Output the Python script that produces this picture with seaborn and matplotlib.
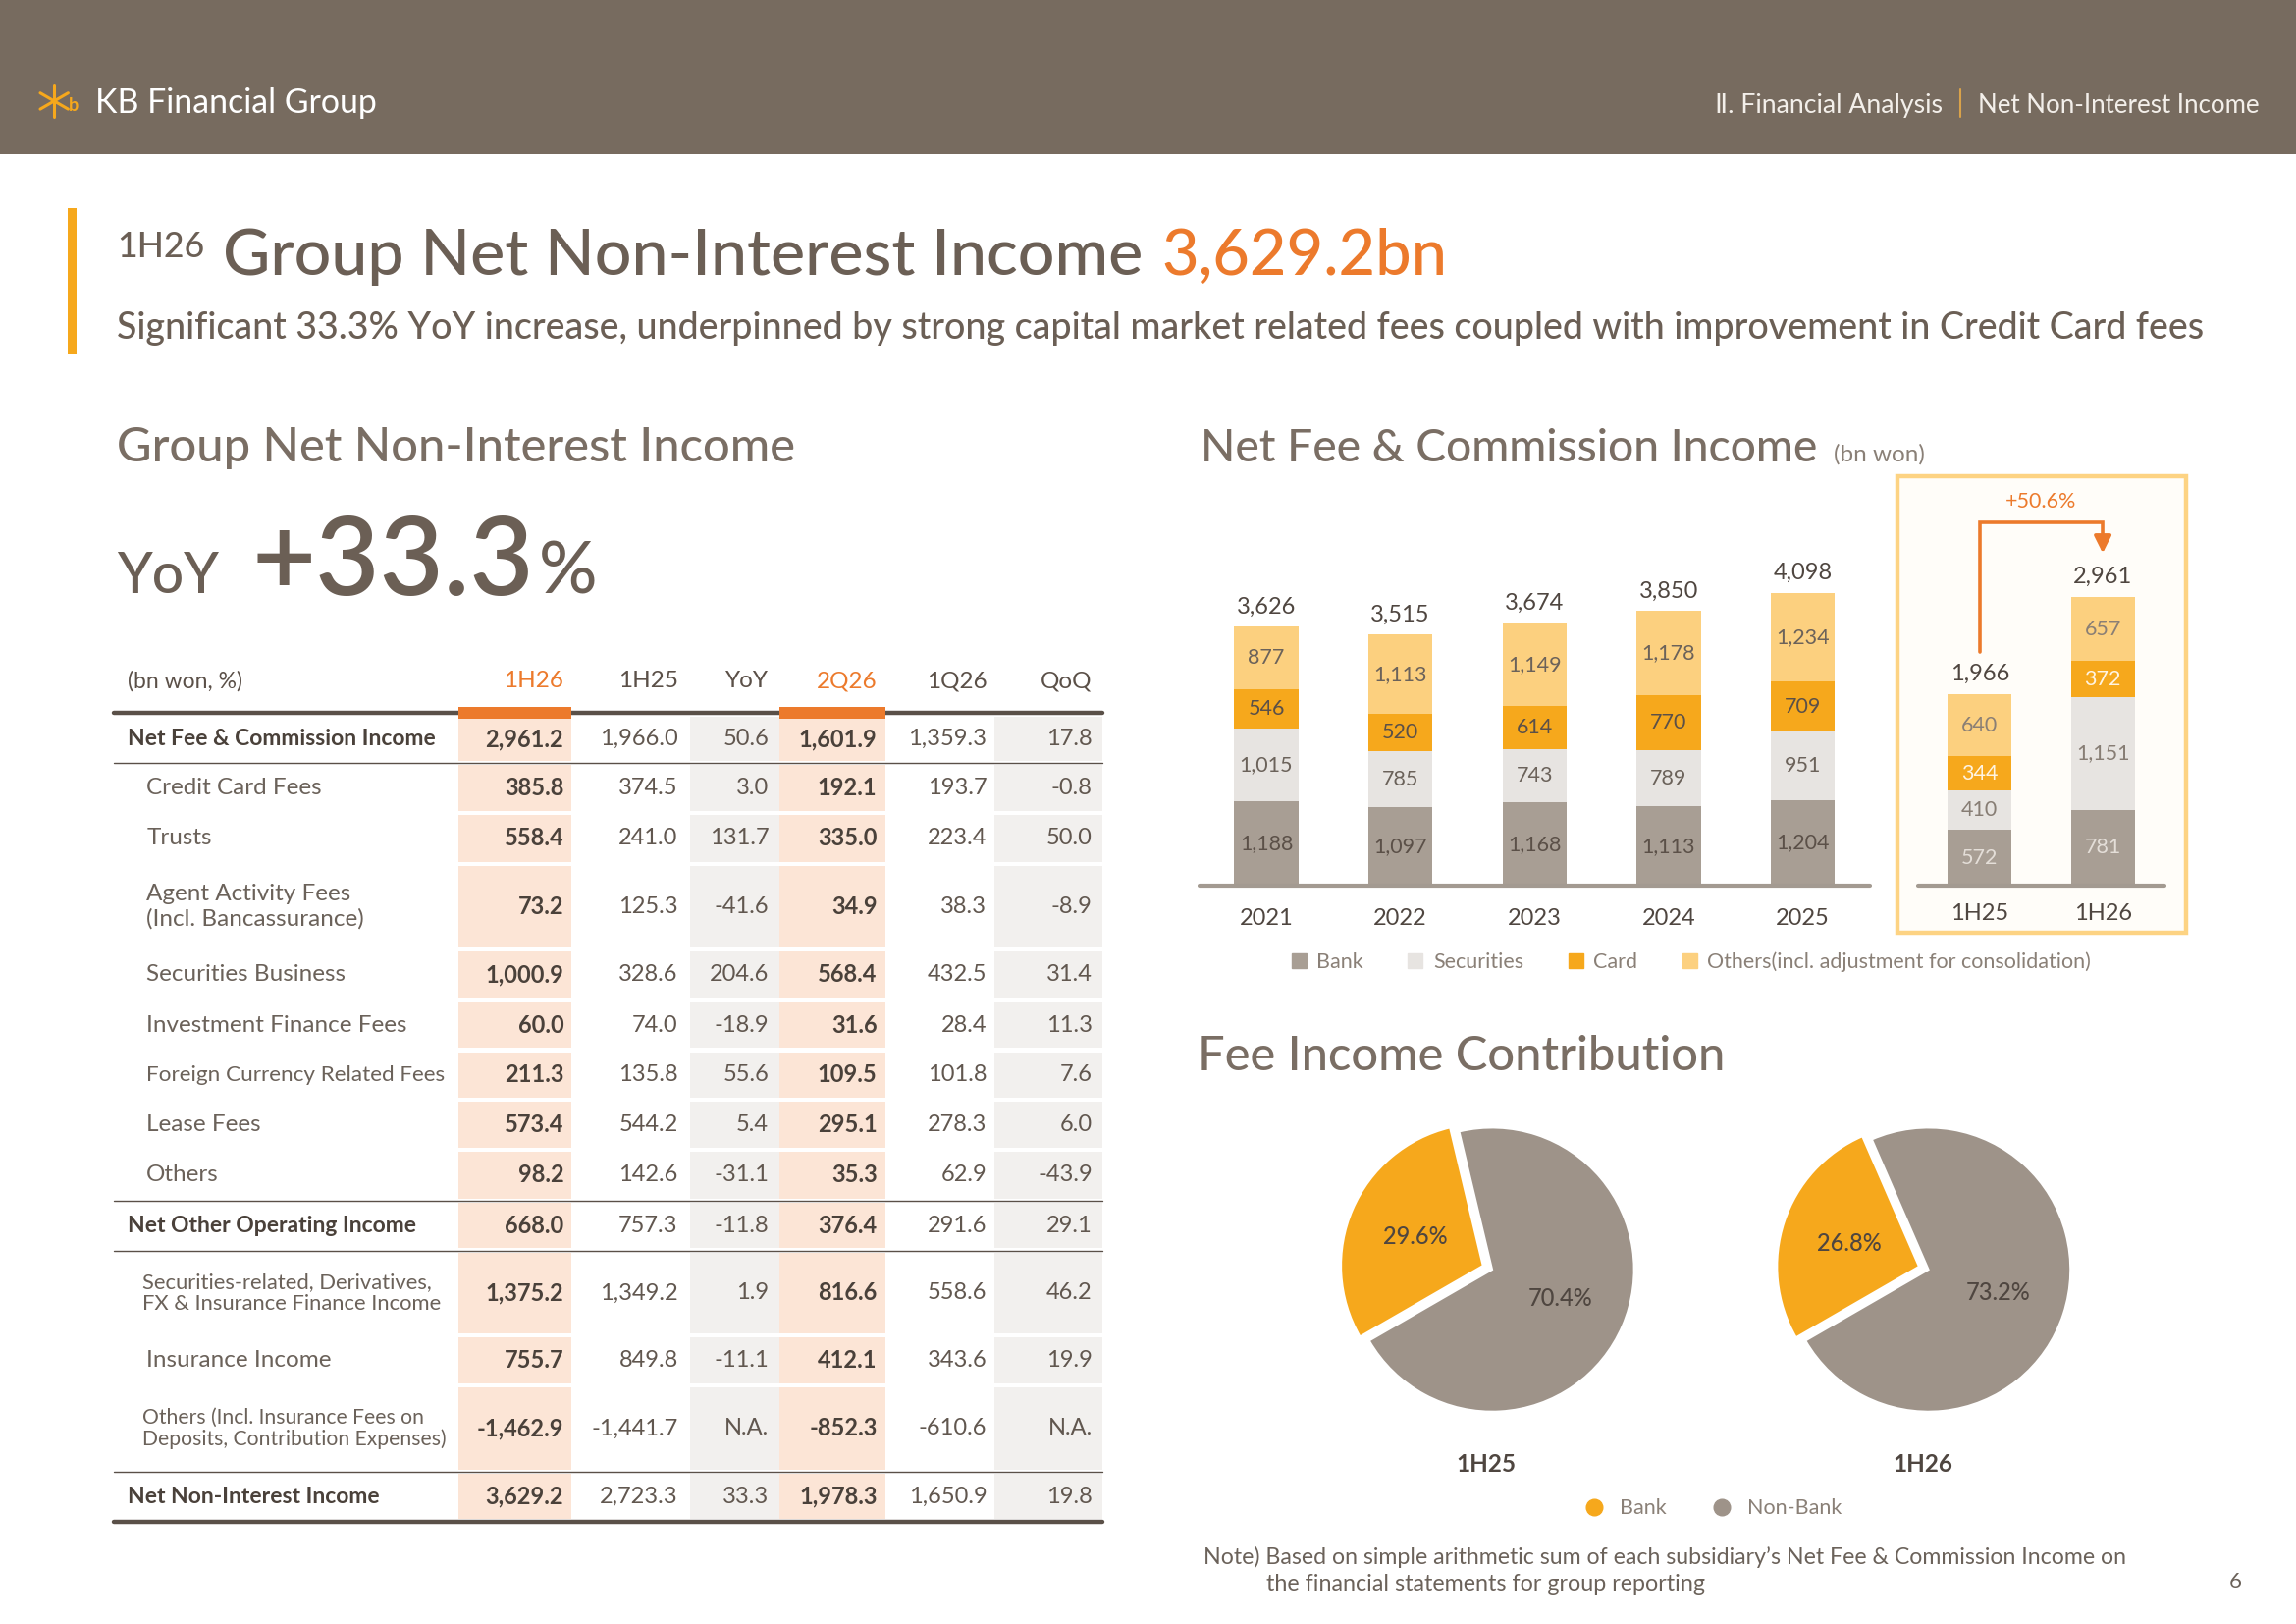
import numpy as np
import seaborn as sns
import matplotlib.pyplot as plt
from matplotlib.patches import Rectangle, Patch
from matplotlib.lines import Line2D

# ---- chart data ----
years = ['2021', '2022', '2023', '2024', '2025']
bank = [1188, 1097, 1168, 1113, 1204]
securities = [1015, 785, 743, 789, 951]
card = [546, 520, 614, 770, 709]
others = [877, 1113, 1149, 1178, 1234]

halves = ['1H25', '1H26']
bank_h = [572, 781]
securities_h = [410, 1151]
card_h = [344, 372]
others_h = [640, 657]
growth_label = '+50.6%'

pie_periods = ['1H25', '1H26']
bank_share = [29.6, 26.8]
nonbank_share = [70.4, 73.2]

# ---- table data ----
col_labels = ['1H26', '1H25', 'YoY', '2Q26', '1Q26', 'QoQ']
row_labels = ['Net Fee & Commission Income', 'Credit Card Fees', 'Trusts',
              'Agent Activity Fees\n(Incl. Bancassurance)', 'Securities Business',
              'Investment Finance Fees', 'Foreign Currency Related Fees', 'Lease Fees',
              'Others', 'Net Other Operating Income',
              'Securities-related, Derivatives,\nFX & Insurance Finance Income',
              'Insurance Income',
              'Others (Incl. Insurance Fees on\nDeposits, Contribution Expenses)',
              'Net Non-Interest Income']
h126 = [2961.2, 385.8, 558.4, 73.2, 1000.9, 60.0, 211.3, 573.4, 98.2, 668.0, 1375.2, 755.7, -1462.9, 3629.2]
h125 = [1966.0, 374.5, 241.0, 125.3, 328.6, 74.0, 135.8, 544.2, 142.6, 757.3, 1349.2, 849.8, -1441.7, 2723.3]
yoy = [50.6, 3.0, 131.7, -41.6, 204.6, -18.9, 55.6, 5.4, -31.1, -11.8, 1.9, -11.1, None, 33.3]
q226 = [1601.9, 192.1, 335.0, 34.9, 568.4, 31.6, 109.5, 295.1, 35.3, 376.4, 816.6, 412.1, -852.3, 1978.3]
q126 = [1359.3, 193.7, 223.4, 38.3, 432.5, 28.4, 101.8, 278.3, 62.9, 291.6, 558.6, 343.6, -610.6, 1650.9]
qoq = [17.8, -0.8, 50.0, -8.9, 31.4, 11.3, 7.6, 6.0, -43.9, 29.1, 46.2, 19.9, None, 19.8]
bold_rows = [0, 9, 13]

# ---- colours ----
BAND = '#776B5F'
TITLE = '#6B5F55'
DARK = '#4F4640'
MID = '#6B625A'
ORANGE = '#EC7A2C'
YELLOW = '#F6A81C'
C_BANK = '#A89E94'
C_SEC = '#E7E4E1'
C_CARD = '#F6A81C'
C_OTH = '#FCD07F'
C_NONBANK = '#9E9389'

sns.set_style('white')
plt.rcParams['font.family'] = ['Lato', 'DejaVu Sans']

W, H = 1568, 1109  # page units


def frac(x0, y0, x1, y1):
    return [x0 / W, 1 - y1 / H, (x1 - x0) / W, (y1 - y0) / H]


fig = plt.figure(figsize=(23.39, 16.54), dpi=100)
page = fig.add_axes([0, 0, 1, 1], zorder=0)
page.set_xlim(0, W)
page.set_ylim(H, 0)
page.axis('off')
renderer = fig.canvas.get_renderer()


def put(x, y, s, size, color, weight='normal', ha='left', va='baseline', width=None, **kw):
    t = page.text(x, y, s, fontsize=size, color=color, fontweight=weight, ha=ha, va=va, **kw)
    if width is not None:
        w = t.get_window_extent(renderer=renderer).width * W / fig.bbox.width
        t.set_fontsize(size * width / w)
    return t


# ---- header band ----
page.add_patch(Rectangle((0, 0), W, 105, color=BAND, lw=0))
for ang in [90, 30, 150]:
    a = np.deg2rad(ang)
    page.plot([37 - 11 * np.cos(a), 37 + 11 * np.cos(a)], [69 + 11 * np.sin(a), 69 - 11 * np.sin(a)],
              color=YELLOW, lw=2.2, solid_capstyle='round')
put(47, 76, 'b', 13, YELLOW, weight='bold')
put(65, 77, 'KB Financial Group', 22, 'white', width=192)
put(1327, 77, 'Ⅱ. Financial Analysis', 17, '#F3EFEA', ha='right', width=155)
page.plot([1339, 1339], [61, 80], color='#D9A24A', lw=1.5)
put(1543, 77, 'Net Non-Interest Income', 17, '#F3EFEA', ha='right', width=192)

# ---- title ----
page.add_patch(Rectangle((46, 142), 6, 100, color=YELLOW, lw=0))
put(80, 176, '1H26', 24, TITLE, weight='medium', width=60)
put(152, 188, 'Group Net Non-Interest Income', 48, TITLE, weight='medium', width=628)
put(793, 188, '3,629.2bn', 48, ORANGE, weight='medium', width=195)
put(80, 231, 'Significant 33.3% YoY increase, underpinned by strong capital market related fees '
             'coupled with improvement in Credit Card fees', 28, TITLE, weight='medium', width=1427)

# ---- left section ----
put(80, 315, 'Group Net Non-Interest Income', 34, '#7A6E64', weight='medium', width=464)
put(80, 405, 'YoY', 48, TITLE, weight='medium', width=70)
put(172, 406, '+33.3', 80, TITLE, weight='semibold', width=193)
put(368, 405, '%', 44, TITLE, weight='medium', width=40)

# table layout
tx0, tx1 = 78, 753
bounds = [488, 521, 555, 590, 648, 683, 717, 751, 785, 820, 854, 912, 946, 1005, 1039]
col_right = [385, 463, 525, 599, 674, 746]
col_span = [(313, 390), None, (471, 532), (532, 605), None, (679, 753)]
col_fill = ['#FCE5D6', None, '#F2F0EE', '#FCE5D6', None, '#F2F0EE']
columns = [h126, h125, yoy, q226, q126, qoq]

for c, span in enumerate(col_span):
    if span is None:
        continue
    for r in range(len(row_labels)):
        page.add_patch(Rectangle((span[0], bounds[r] + 1.5), span[1] - span[0],
                                 bounds[r + 1] - bounds[r] - 3, color=col_fill[c], lw=0))
    if col_fill[c] == '#FCE5D6':
        page.add_patch(Rectangle((span[0], 482.5), span[1] - span[0], 8, color=ORANGE, lw=0, zorder=3))

page.plot([tx0, tx1], [487, 487], color='#5A5048', lw=3.2, zorder=2)
page.plot([tx0, tx1], [1039, 1039], color='#5A5048', lw=3.2, zorder=2)
for yl in [521, 820, 854, 1005]:
    page.plot([tx0, tx1], [yl, yl], color='#5A5048', lw=1.0, zorder=2)

page.text(87, 465, '(bn won, %)', fontsize=16.5, color='#5B5048', va='center')
for c, lab in enumerate(col_labels):
    page.text(col_right[c], 465, lab, fontsize=17.5, va='center', ha='right',
              color=ORANGE if c in (0, 3) else '#5B5048')


def fmt(v):
    return 'N.A.' if v is None else f'{v:,.1f}'


for r, lab in enumerate(row_labels):
    yc = (bounds[r] + bounds[r + 1]) / 2
    if r in bold_rows:
        page.text(87, yc, lab, fontsize=16.5, fontweight='bold', color='#4A413A', va='center')
    elif r in (10, 12):
        page.text(97, yc, lab, fontsize=15.8 if r == 10 else 15.2, color=MID, va='center',
                  linespacing=1.1)
    else:
        page.text(100, yc, lab, fontsize=17.5 if r != 6 else 16.2, color=MID, va='center',
                  linespacing=1.2)
    for c, col in enumerate(columns):
        strong = c in (0, 3)
        page.text(col_right[c], yc, fmt(col[r]), fontsize=17, ha='right', va='center',
                  fontweight='bold' if strong else 'normal',
                  color='#4A413A' if strong else '#61574F')

# ---- right section: headings ----
put(820, 315, 'Net Fee & Commission Income', 34, '#7A6E64', weight='medium', width=422)
put(1252, 315, '(bn won)', 15, '#8A8077', width=62)
put(818, 731, 'Fee Income Contribution', 34, '#7A6E64', weight='medium', width=361)

# highlight box behind half-year bars
page.add_patch(Rectangle((1296, 325), 197, 312, facecolor='#FFFDF9', edgecolor='#FDD383', lw=3.2))

layer_colors = [C_BANK, C_SEC, C_CARD, C_OTH]


def stacked(ax, cats, layers, label_colors, width, total_size):
    arr = np.array(layers)
    cum = np.cumsum(arr, axis=0)
    for k in reversed(range(len(layers))):
        sns.barplot(x=cats, y=cum[k], color=layer_colors[k], width=width, saturation=1,
                    errorbar=None, linewidth=0, ax=ax)
    for i in range(len(cats)):
        for k in range(len(layers)):
            ax.text(i, cum[k, i] - arr[k, i] / 2, f'{arr[k, i]:,}', ha='center', va='center',
                    fontsize=15.5, color=label_colors[k])
        ax.annotate(f'{cum[-1, i]:,}', (i, cum[-1, i]), xytext=(0, 7), textcoords='offset points',
                    ha='center', va='bottom', fontsize=total_size, color=DARK)
    ax.set_xlim(-0.5, len(cats) - 0.5)
    ax.axhline(0, color='#A39A91', lw=3, clip_on=False)
    ax.set_yticks([])
    ax.set_ylabel('')
    ax.set_facecolor('none')
    sns.despine(ax=ax, left=True, bottom=True)
    return cum


ax1 = fig.add_axes(frac(819, 380, 1277, 605), zorder=2)
stacked(ax1, years, [bank, securities, card, others],
        ['#5B5048', '#6B625A', '#5B5048', '#6B625A'], 0.48, 17)
ax1.set_ylim(0, 4610)
ax1.tick_params(axis='x', length=0, pad=16, labelsize=17, labelcolor=DARK)

ax2 = fig.add_axes(frac(1310, 330, 1478, 605), zorder=2)
cum_h = stacked(ax2, halves, [bank_h, securities_h, card_h, others_h],
                ['#E4DED8', '#877D74', '#FFF4E2', '#8A7F75'], 0.52, 17)
ax2.set_ylim(0, 4125)
ax2.tick_params(axis='x', length=0, pad=13, labelsize=17, labelcolor=DARK)

tot = cum_h[-1]
y_top = tot[1] + 760
ax2.plot([0, 0, 1, 1], [tot[0] + 430, y_top, y_top, tot[1] + 560], color=ORANGE, lw=2.6,
         solid_joinstyle='miter', clip_on=False)
ax2.annotate('', xy=(1, tot[1] + 420), xytext=(1, tot[1] + 600),
             arrowprops=dict(arrowstyle='-|>', color=ORANGE, lw=2.6, mutation_scale=26),
             annotation_clip=False)
ax2.text(0.5, y_top + 110, growth_label, ha='center', va='bottom', fontsize=15.5, color=ORANGE)

fig.legend(handles=[Patch(color=c) for c in layer_colors],
           labels=['Bank', 'Securities', 'Card', 'Others(incl. adjustment for consolidation)'],
           loc='center', bbox_to_anchor=(1155 / W, 1 - 657 / H), ncol=4, frameon=False,
           fontsize=15.5, handlelength=0.7, handleheight=0.7, handletextpad=0.5,
           columnspacing=2.1, labelcolor='#8A8077')

# ---- pies ----
r_pie = 97
for j, cx in enumerate([1019, 1317]):
    cy = 867
    axp = fig.add_axes(frac(cx - 1.25 * r_pie, cy - 1.25 * r_pie, cx + 1.25 * r_pie, cy + 1.25 * r_pie),
                       zorder=2)
    axp.pie([nonbank_share[j], bank_share[j]], colors=[C_NONBANK, YELLOW], startangle=210,
            counterclock=True, explode=[0, 0.07], autopct='%.1f%%', pctdistance=0.52,
            wedgeprops=dict(linewidth=1.5, edgecolor='white'),
            textprops=dict(fontsize=17, color=DARK, fontweight='medium'))
    axp.set_xlim(-1.25, 1.25)
    axp.set_ylim(-1.25, 1.25)
    axp.set_aspect('equal')
    page.text(cx - 4, 1000, pie_periods[j], fontsize=17.5, fontweight='bold', color=DARK,
              ha='center', va='center')

fig.legend(handles=[Line2D([], [], marker='o', ls='', color=YELLOW, markersize=12),
                    Line2D([], [], marker='o', ls='', color=C_NONBANK, markersize=12)],
           labels=['Bank', 'Non-Bank'], loc='center', bbox_to_anchor=(1166 / W, 1 - 1030 / H),
           ncol=2, frameon=False, fontsize=15.5, handletextpad=0.2, columnspacing=1.6,
           labelcolor='#8A8077')

# ---- footnote ----
put(822, 1068, 'Note) Based on simple arithmetic sum of each subsidiary\u2019s Net Fee & Commission Income on',
    14, MID, width=631)
put(865, 1086, 'the financial statements for group reporting', 14, MID, width=299)
put(1531, 1084, '6', 16, MID, ha='right')

fig.savefig('out.png', dpi=100)
